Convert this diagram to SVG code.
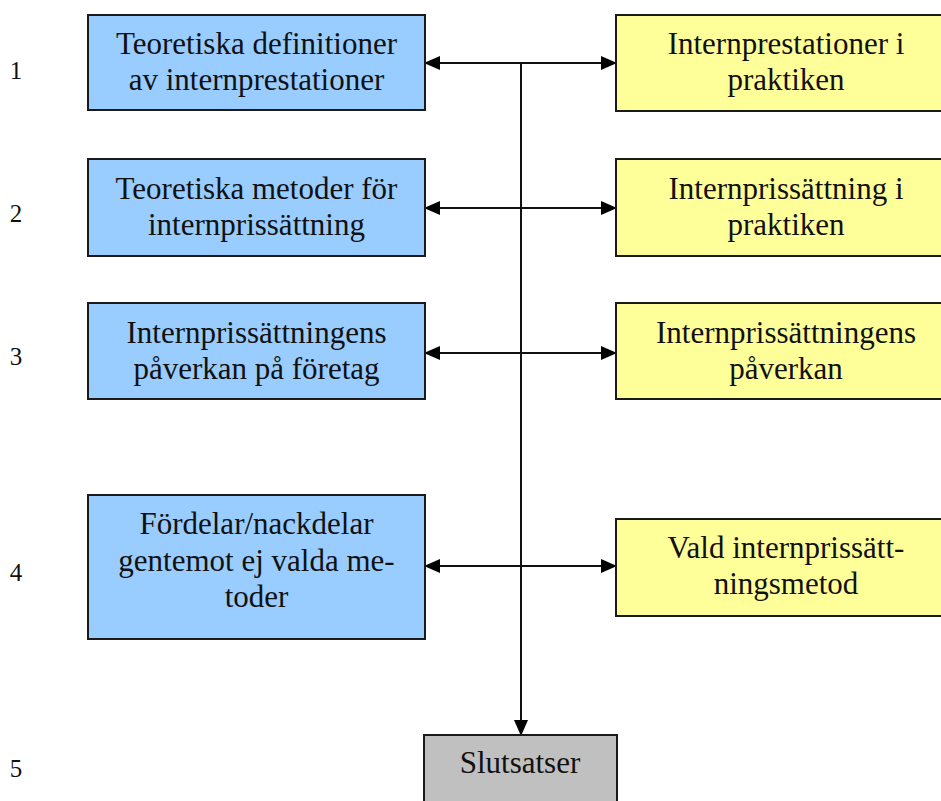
<svg xmlns="http://www.w3.org/2000/svg" width="941" height="801" viewBox="0 0 941 801">
<defs>
<style>
.blue{fill:#99CCFF;stroke:#1a1a1a;stroke-width:2}
.yellow{fill:#FFFF99;stroke:#1a1a1a;stroke-width:2}
.grey{fill:#C0C0C0;stroke:#1a1a1a;stroke-width:2}
text{font-family:"Liberation Serif","Times New Roman",serif;fill:#111}
.t{font-size:31px;text-anchor:middle}
.n{font-size:25px;text-anchor:middle}
.c{fill:none;stroke:#111;stroke-width:2}
</style>
<marker id="ah" markerUnits="userSpaceOnUse" markerWidth="16" markerHeight="14" refX="15" refY="7" orient="auto-start-reverse" viewBox="0 0 16 14">
<path d="M0,0 L16,7 L0,14 Z" fill="#000"/>
</marker>
</defs>
<rect width="941" height="801" fill="#fff"/>
<g id="numbers">
<text class="n" x="16" y="79">1</text>
<text class="n" x="16" y="222">2</text>
<text class="n" x="16" y="365">3</text>
<text class="n" x="16" y="581">4</text>
<text class="n" x="16" y="777">5</text>
</g>
<g id="connectors">
<path class="c" d="M521,63 V735" marker-end="url(#ah)"/>
<path class="c" d="M425,63 H616" marker-start="url(#ah)" marker-end="url(#ah)"/>
<path class="c" d="M425,208 H616" marker-start="url(#ah)" marker-end="url(#ah)"/>
<path class="c" d="M425,353 H616" marker-start="url(#ah)" marker-end="url(#ah)"/>
<path class="c" d="M425,566 H616" marker-start="url(#ah)" marker-end="url(#ah)"/>
</g>
<g id="b1"><rect class="blue" x="88" y="15" width="337" height="95"/>
<text class="t" x="256.5" y="54">Teoretiska definitioner</text><text class="t" x="256.5" y="90">av internprestationer</text></g>
<g id="y1"><rect class="yellow" x="616" y="15" width="340" height="96"/>
<text class="t" x="786" y="54">Internprestationer i</text><text class="t" x="786" y="90">praktiken</text></g>
<g id="b2"><rect class="blue" x="88" y="159" width="337" height="97"/>
<text class="t" x="256.5" y="199">Teoretiska metoder för</text><text class="t" x="256.5" y="235">internprissättning</text></g>
<g id="y2"><rect class="yellow" x="616" y="159" width="340" height="97"/>
<text class="t" x="786" y="199">Internprissättning i</text><text class="t" x="786" y="235">praktiken</text></g>
<g id="b3"><rect class="blue" x="88" y="303" width="337" height="96"/>
<text class="t" x="256.5" y="343">Internprissättningens</text><text class="t" x="256.5" y="379">påverkan på företag</text></g>
<g id="y3"><rect class="yellow" x="616" y="303" width="340" height="96"/>
<text class="t" x="786" y="343">Internprissättningens</text><text class="t" x="786" y="379">påverkan</text></g>
<g id="b4"><rect class="blue" x="88" y="495" width="337" height="144"/>
<text class="t" x="256.5" y="534">Fördelar/nackdelar</text><text class="t" x="256.5" y="571">gentemot ej valda me-</text><text class="t" x="256.5" y="607">toder</text></g>
<g id="y4"><rect class="yellow" x="616" y="519" width="340" height="97"/>
<text class="t" x="786" y="558">Vald internprissätt-</text><text class="t" x="786" y="594">ningsmetod</text></g>
<g id="s5"><rect class="grey" x="424" y="735" width="193" height="80"/>
<text class="t" x="520" y="773">Slutsatser</text></g>
</svg>
